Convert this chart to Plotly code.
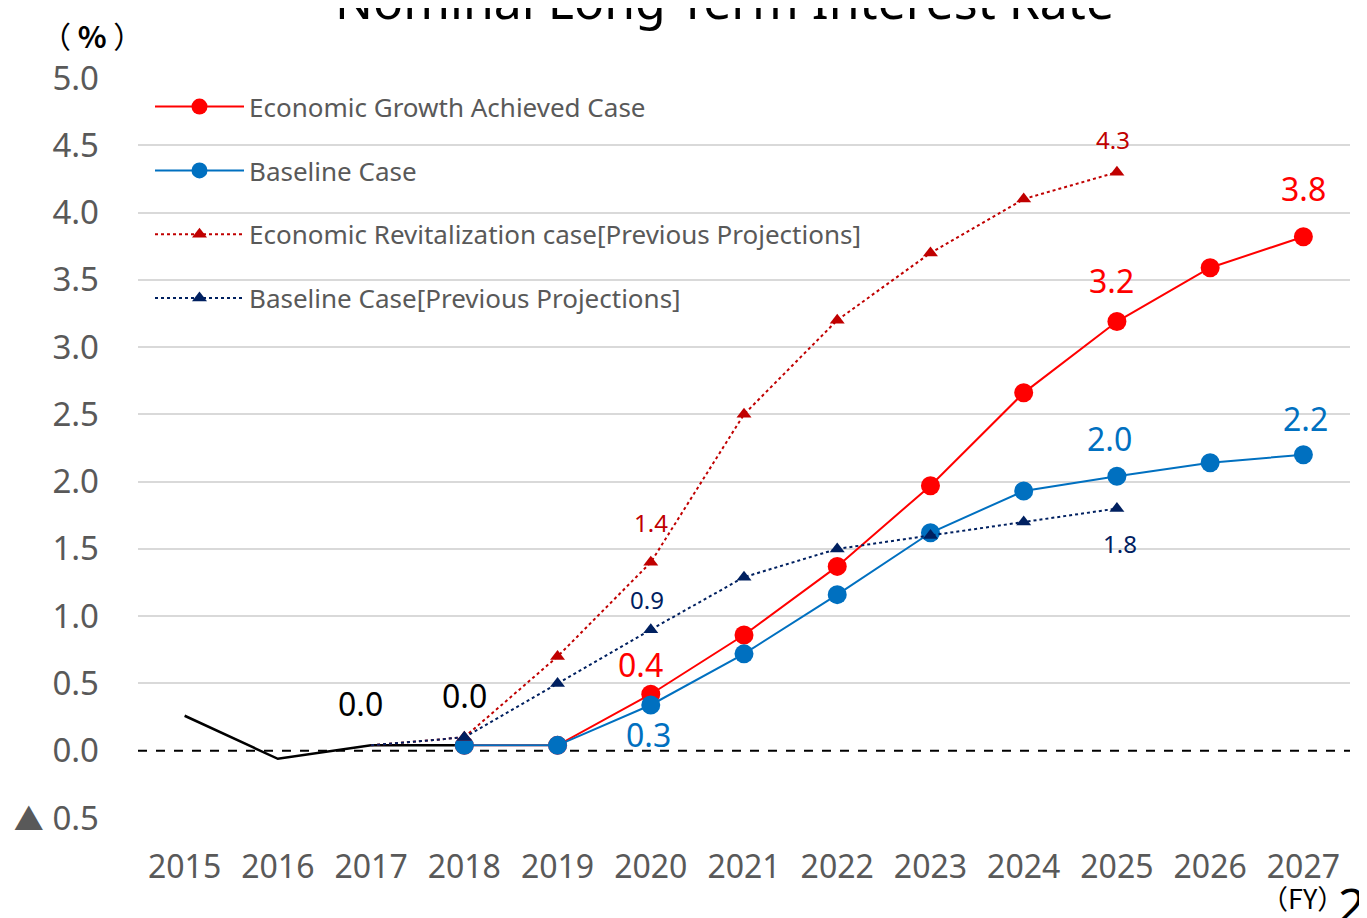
import plotly.graph_objects as go

# ---------------- data ----------------
years = [2015, 2016, 2017, 2018, 2019, 2020, 2021, 2022, 2023, 2024, 2025, 2026, 2027]

actual_years = [2015, 2016, 2017, 2018]
actual_vals = [0.26, -0.06, 0.04, 0.04]

proj_years = [2018, 2019, 2020, 2021, 2022, 2023, 2024, 2025, 2026, 2027]
growth_vals = [0.04, 0.04, 0.42, 0.86, 1.37, 1.97, 2.66, 3.19, 3.59, 3.82]
baseline_vals = [0.04, 0.04, 0.34, 0.72, 1.16, 1.62, 1.93, 2.04, 2.14, 2.20]

prev_years = [2018, 2019, 2020, 2021, 2022, 2023, 2024, 2025]
prev_revital_vals = [0.10, 0.70, 1.40, 2.50, 3.20, 3.70, 4.10, 4.30]
prev_baseline_vals = [0.10, 0.50, 0.90, 1.29, 1.50, 1.60, 1.70, 1.80]

ytick_vals = [-0.5, 0.0, 0.5, 1.0, 1.5, 2.0, 2.5, 3.0, 3.5, 4.0, 4.5, 5.0]
ytick_text = ["<span style='font-family:Noto Sans CJK JP;font-size:30px'>▲</span> 0.5",
              "0.0", "0.5", "1.0", "1.5", "2.0", "2.5", "3.0", "3.5", "4.0", "4.5", "5.0"]

names = ["Economic Growth Achieved Case", "Baseline Case",
         "Economic Revitalization case[Previous Projections]",
         "Baseline Case[Previous Projections]"]

RED = "#FF0000"
BLUE = "#0070C0"
DRED = "#C00000"
NAVY = "#002060"
GRAY = "#595959"
FONT = "Noto Sans"
XMIN, XMAX = 2014.5, 2027.5

fig = go.Figure()

# zero reference line: white cover for the grid line, then black dashes
fig.add_trace(go.Scatter(x=[XMIN, XMAX], y=[0, 0], mode="lines", showlegend=False,
                         hoverinfo="skip", line=dict(color="white", width=3)))
fig.add_trace(go.Scatter(x=[XMIN, XMAX], y=[0, 0], mode="lines", showlegend=False,
                         hoverinfo="skip", line=dict(color="black", width=2.2, dash="dash")))

# actual results
fig.add_trace(go.Scatter(x=actual_years, y=actual_vals, mode="lines",
                         line=dict(color="black", width=2.5), showlegend=False,
                         hoverinfo="skip"))
# dotted bridges from last actual (2017) to the previous projections' first year
i17 = actual_years.index(2017)
for vals, col in [(prev_revital_vals, DRED), (prev_baseline_vals, NAVY)]:
    fig.add_trace(go.Scatter(x=[actual_years[i17], prev_years[0]], y=[actual_vals[i17], vals[0]],
                             mode="lines", showlegend=False, hoverinfo="skip",
                             line=dict(color=col, width=2, dash="dot")))

fig.add_trace(go.Scatter(x=proj_years, y=growth_vals, mode="lines+markers", name=names[0],
                         line=dict(color=RED, width=2), legendgroup="g1",
                         marker=dict(symbol="circle", size=19, color=RED)))
fig.add_trace(go.Scatter(x=proj_years, y=baseline_vals, mode="lines+markers", name=names[1],
                         line=dict(color=BLUE, width=2), legendgroup="g2",
                         marker=dict(symbol="circle", size=19, color=BLUE)))
fig.add_trace(go.Scatter(x=prev_years, y=prev_revital_vals, mode="lines+markers", name=names[2],
                         line=dict(color=DRED, width=2, dash="dot"), legendgroup="g3",
                         marker=dict(symbol="triangle-up", size=13, color=DRED)))
fig.add_trace(go.Scatter(x=prev_years, y=prev_baseline_vals, mode="lines+markers", name=names[3],
                         line=dict(color=NAVY, width=2, dash="dot"), legendgroup="g4",
                         marker=dict(symbol="triangle-up", size=13, color=NAVY)))

# ---------------- data labels ----------------
# (years, values, year, label text, color, font size, xshift, yshift)
labels = [
    (actual_years, actual_vals, 2017, "0.0", "black", 32, -11, 42),
    (actual_years, actual_vals, 2018, "0.0", "black", 32, 0, 50),
    (proj_years, growth_vals, 2020, "0.4", RED, 32, -10, 30),
    (proj_years, growth_vals, 2025, "3.2", RED, 32, -5, 41),
    (proj_years, growth_vals, 2027, "3.8", RED, 32, 0, 48),
    (proj_years, baseline_vals, 2020, "0.3", BLUE, 32, -2, -30),
    (proj_years, baseline_vals, 2025, "2.0", BLUE, 32, -7, 38),
    (proj_years, baseline_vals, 2027, "2.2", BLUE, 32, 2, 36),
    (prev_years, prev_revital_vals, 2020, "1.4", DRED, 24, 0, 40),
    (prev_years, prev_revital_vals, 2025, "4.3", DRED, 24, -4, 33),
    (prev_years, prev_baseline_vals, 2020, "0.9", NAVY, 24, -4, 30),
    (prev_years, prev_baseline_vals, 2025, "1.8", NAVY, 24, 3, -35),
]
for xs, vs, yr, txt, col, fs, dx, dy in labels:
    v = vs[xs.index(yr)]
    fig.add_annotation(x=yr, y=v, xref="x", yref="y", text=txt, showarrow=False,
                       font=dict(family=FONT, size=fs, color=col),
                       xshift=dx, yshift=dy, xanchor="center", yanchor="middle")

# ---------------- text furniture ----------------
fig.add_annotation(text="Nominal Long Term Interest Rate", xref="paper", yref="paper",
                   x=0.484, y=1.057, xanchor="center", yanchor="bottom", showarrow=False,
                   font=dict(family=FONT, size=50, color="black"))
fig.add_annotation(text="（ <b>%</b> ）", xref="paper", yref="paper", x=-0.038, y=1.058,
                   xanchor="center", yanchor="middle", showarrow=False,
                   font=dict(family="Noto Sans CJK JP", size=30, color="black"))
fig.add_annotation(text="（FY）", xref="paper", yref="paper", x=0.9604, y=-0.1068,
                   xanchor="center", yanchor="middle", showarrow=False,
                   font=dict(family="Noto Sans CJK JP", size=27, color="black"))
fig.add_annotation(text="2", xref="paper", yref="paper", x=0.9885, y=-0.0703,
                   xanchor="left", yanchor="top", showarrow=False,
                   font=dict(family=FONT, size=48, color="black"))

fig.update_layout(
    width=1359, height=910,
    margin=dict(l=130, r=17, t=70, b=100, autoexpand=False),
    paper_bgcolor="white", plot_bgcolor="white",
    font=dict(family=FONT, color=GRAY),
    showlegend=True,
    legend=dict(x=0.0099, y=0.993, xanchor="left", yanchor="top",
                font=dict(family=FONT, size=26, color=GRAY),
                bgcolor="rgba(0,0,0,0)", itemwidth=89, tracegroupgap=27,
                traceorder="grouped"),
    xaxis=dict(range=[XMIN, XMAX], tickmode="array", tickvals=years,
               ticktext=[str(y) for y in years], showgrid=False, zeroline=False,
               showline=False, ticks="", ticklabelstandoff=27, automargin=False,
               tickfont=dict(family=FONT, size=32, color=GRAY)),
    yaxis=dict(range=[-0.5, 5.0], tickmode="array", tickvals=ytick_vals, ticktext=ytick_text,
               showgrid=True, gridcolor="#D9D9D9", gridwidth=2, zeroline=False,
               showline=False, ticks="", ticklabelstandoff=38, automargin=False,
               tickfont=dict(family=FONT, size=33, color=GRAY)),
)

fig.write_html("out.html")
